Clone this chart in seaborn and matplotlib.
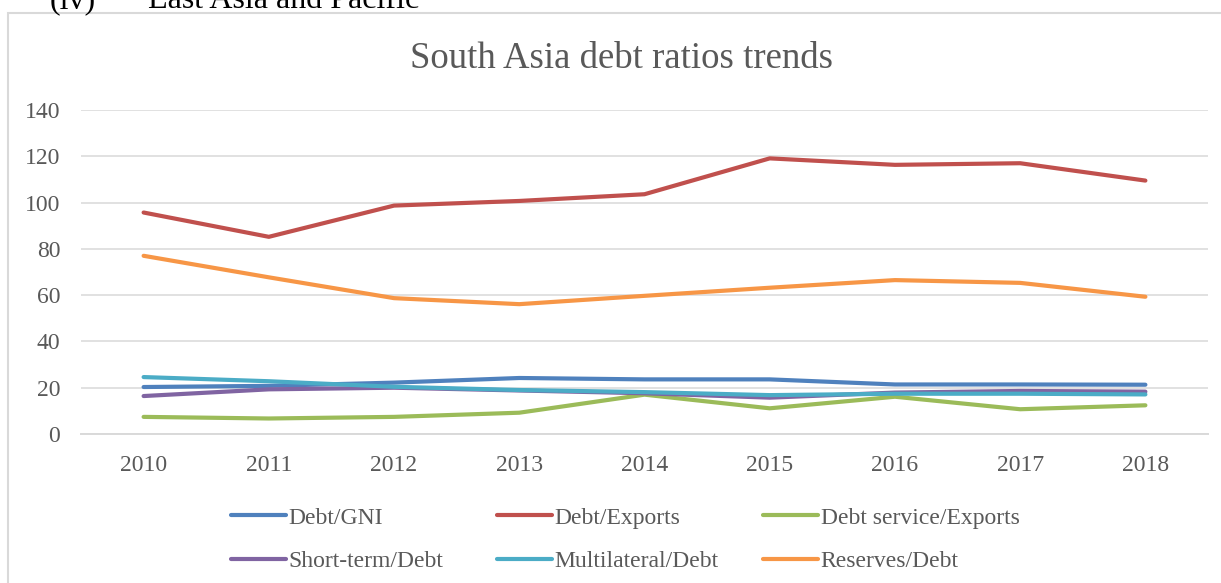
import matplotlib
matplotlib.use("Agg")
import matplotlib.pyplot as plt
import seaborn as sns
import pandas as pd
from matplotlib.patches import Rectangle
from matplotlib.lines import Line2D

# ---- data -------------------------------------------------------------
years = ["2010", "2011", "2012", "2013", "2014", "2015", "2016", "2017", "2018"]

debt_gni = [20.3, 20.8, 22.2, 24.2, 23.6, 23.6, 21.4, 21.4, 21.3]
debt_exports = [95.7, 85.2, 98.7, 100.7, 103.6, 119.1, 116.3, 117.0, 109.5]
debt_service_exports = [7.4, 6.7, 7.4, 9.2, 17.0, 11.1, 16.1, 10.7, 12.4]
short_term_debt = [16.4, 19.3, 20.0, 18.8, 17.6, 15.7, 17.9, 18.6, 18.3]
multilateral_debt = [24.6, 22.8, 20.4, 19.0, 18.1, 16.8, 17.4, 17.4, 17.1]
reserves_debt = [77.0, 67.7, 58.7, 56.1, 59.7, 63.2, 66.5, 65.3, 59.3]

series_names = ["Debt/GNI", "Debt/Exports", "Debt service/Exports",
                "Short-term/Debt", "Multilateral/Debt", "Reserves/Debt"]
series_values = [debt_gni, debt_exports, debt_service_exports,
                 short_term_debt, multilateral_debt, reserves_debt]
series_colors = ["#4F81BD", "#C0504D", "#9BBB59", "#8064A2", "#4BACC6", "#F79646"]

y_ticks = [0, 20, 40, 60, 80, 100, 120, 140]

# long-form table for seaborn
rows = []
for name, vals in zip(series_names, series_values):
    for i, (yr, v) in enumerate(zip(years, vals)):
        rows.append({"pos": i, "year": yr, "series": name, "value": v})
df = pd.DataFrame(rows)

# ---- styling ----------------------------------------------------------
sns.set_theme(style="white")
plt.rcParams["font.family"] = ["Liberation Serif", "DejaVu Serif"]
text_gray = "#595959"
grid_gray = "#d9d9d9"

W, H = 1221, 583
fig = plt.figure(figsize=(W / 100, H / 100), dpi=100)
fig.patch.set_facecolor("white")

# plot area in pixel coordinates
left, right, top, bottom = 81, 1208, 110, 434
ax = fig.add_axes([left / W, 1 - bottom / H, (right - left) / W, (bottom - top) / H])

palette = dict(zip(series_names, series_colors))
sns.lineplot(data=df, x="pos", y="value", hue="series", hue_order=series_names,
             palette=palette, linewidth=3.0, legend=False, ax=ax,
             solid_capstyle="round", solid_joinstyle="round")

ax.set_xlim(-0.5, len(years) - 0.5)
ax.set_ylim(y_ticks[0], y_ticks[-1])
ax.set_xticks(range(len(years)))
ax.set_xticklabels(years)
ax.set_yticks(y_ticks)
ax.set_xlabel("")
ax.set_ylabel("")

ax.grid(axis="y", color=grid_gray, linewidth=1.1)
ax.grid(axis="x", visible=False)
ax.set_axisbelow(True)
for side in ["top", "right", "left"]:
    ax.spines[side].set_visible(False)
ax.spines["bottom"].set_color(grid_gray)
ax.spines["bottom"].set_linewidth(1.4)

ax.tick_params(axis="both", length=0, labelsize=17, labelcolor=text_gray)
ax.tick_params(axis="y", pad=15)
ax.tick_params(axis="x", pad=15)

# ---- chart frame and headings ----------------------------------------
frame = Rectangle((8 / W, -0.05), 1.1, 1 - 13 / H + 0.05, transform=fig.transFigure,
                  fill=False, edgecolor=grid_gray, linewidth=1.5, zorder=0)
fig.patches.append(frame)

fig.text(622 / W, 1 - 68 / H, "South Asia debt ratios trends", ha="center",
         va="baseline", fontsize=26.5, color=text_gray)

fig.text(50 / W, 1 - 8 / H, "(iv)", ha="left", va="baseline", fontsize=23,
         color="black")
fig.text(148 / W, 1 - 8 / H, "East Asia and Pacific", ha="left", va="baseline",
         fontsize=23, color="black")

# ---- legend: three columns of two entries ----------------------------
col_x = [231, 497, 763]
for c in range(3):
    idx = [c, c + 3]
    handles = [Line2D([0], [0], color=series_colors[i], linewidth=3.0,
                      solid_capstyle="round") for i in idx]
    labels = [series_names[i] for i in idx]
    leg = fig.legend(handles, labels, loc="upper left",
                     bbox_to_anchor=(col_x[c] / W, 1 - 507 / H),
                     frameon=False, fontsize=17, handlelength=2.33,
                     handletextpad=0.12, labelspacing=0.95, borderpad=0,
                     borderaxespad=0)
    for t in leg.get_texts():
        t.set_color(text_gray)

fig.savefig("out.png", dpi=100, facecolor="white")
